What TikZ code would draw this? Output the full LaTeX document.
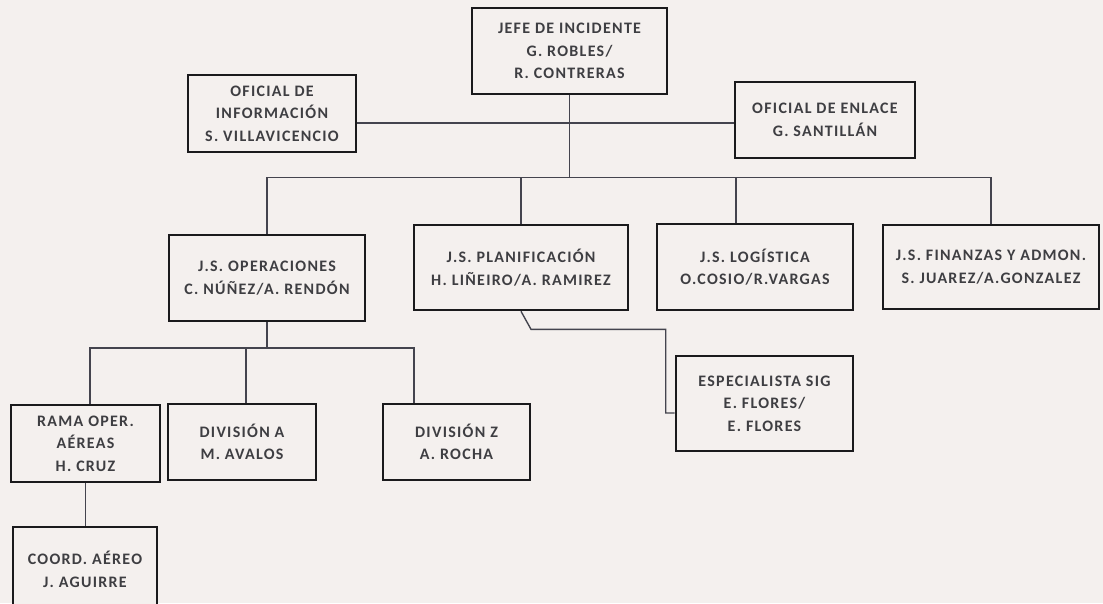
\documentclass[tikz,border=0pt]{standalone}
\usepackage{fontspec}
\usepackage{xcolor}
\usetikzlibrary{positioning}
\newfontfamily\orgfont{Carlito}[LetterSpace=8]
\definecolor{paper}{RGB}{244,240,238}
\definecolor{boxline}{RGB}{26,26,28}
\definecolor{linegray}{RGB}{68,68,78}
\definecolor{textgray}{RGB}{62,62,66}
\tikzset{
    % Org chart box styles
    puesto/.style={
        rectangle, draw=boxline, line width=2.6pt, fill=paper,
        align=center, inner sep=0pt, text=textgray,
        font=\orgfont\bfseries\fontsize{16}{22.5}\selectfont
    },
    linea/.style={
        draw=linegray, line width=1.4pt
    }
}

\begin{document}
\begin{tikzpicture}[x=1pt,y=-1pt]

\useasboundingbox (0,0) rectangle (1103,603);
\clip (0,0) rectangle (1103,603);
\fill[paper] (0,0) rectangle (1103,603);

% Command level
\node[puesto, minimum width=195pt, minimum height=86pt] (jefe) at (569.5,51) {JEFE DE INCIDENTE\\G. ROBLES/\\R. CONTRERAS};
\node[puesto, minimum width=168pt, minimum height=77pt] (info) at (272,113.5) {OFICIAL DE\\INFORMACIÓN\\S. VILLAVICENCIO};
\node[puesto, minimum width=180pt, minimum height=76pt] (enlace) at (825,120) {OFICIAL DE ENLACE\\G. SANTILLÁN};

% Section chiefs
\node[puesto, minimum width=196pt, minimum height=86pt] (ops) at (267,278) {J.S. OPERACIONES\\C. NÚÑEZ/A. RENDÓN};
\node[puesto, minimum width=214pt, minimum height=85pt] (plan) at (521,267.5) {J.S. PLANIFICACIÓN\\H. LIÑEIRO/A. RAMIREZ};
\node[puesto, minimum width=196pt, minimum height=86pt] (log) at (755,267) {J.S. LOGÍSTICA\\O.COSIO/R.VARGAS};
\node[puesto, minimum width=216pt, minimum height=84pt] (fin) at (991,267) {J.S. FINANZAS Y ADMON.\\S. JUAREZ/A.GONZALEZ};

% Planning support
\node[puesto, minimum width=177pt, minimum height=95pt] (sig) at (764.5,403.5) {ESPECIALISTA SIG\\E. FLORES/\\E. FLORES};

% Operations branches
\node[puesto, minimum width=149pt, minimum height=77pt] (rama) at (85.5,443.5) {RAMA OPER.\\AÉREAS\\H. CRUZ};
\node[puesto, minimum width=148pt, minimum height=76pt] (divA) at (242,442) {DIVISIÓN A\\M. AVALOS};
\node[puesto, minimum width=147pt, minimum height=76pt] (divZ) at (456.5,442) {DIVISIÓN Z\\A. ROCHA};
\node[puesto, minimum width=144pt, minimum height=85pt] (coord) at (85,569.5) {COORD. AÉREO\\J. AGUIRRE};

% Bus points
\coordinate (staff) at (569.5,123);
\coordinate (bus) at (569.5,177.5);
\coordinate (opsbus) at (267,348);

% Staff and command lines
\draw[linea] (info.east |- staff) -- (enlace.west |- staff);
\draw[linea] (jefe.south) -- (bus);
\draw[linea] (ops.north) -- (ops.north |- bus) -- (fin.north |- bus) -- (fin.north);
\draw[linea] (plan.north) -- (plan.north |- bus);
\draw[linea] ([xshift=-19pt]log.north) -- ([xshift=-19pt]log.north |- bus);

% Planning to SIG
\draw[linea] (plan.south) -- ++(10,18) -| ([xshift=-9pt,yshift=-9.5pt]sig.west) -- ([yshift=-9.5pt]sig.west);

% Operations lines
\draw[linea] (ops.south) -- (opsbus);
\draw[linea] ([xshift=4.5pt]rama.north) -- ([xshift=4.5pt]rama.north |- opsbus) -- ([xshift=-42.5pt]divZ.north |- opsbus) -- ([xshift=-42.5pt]divZ.north);
\draw[linea] ([xshift=4pt]divA.north) -- ([xshift=4pt]divA.north |- opsbus);
\draw[linea] (rama.south) -- (rama.south |- coord.north);

\end{tikzpicture}
\end{document}
